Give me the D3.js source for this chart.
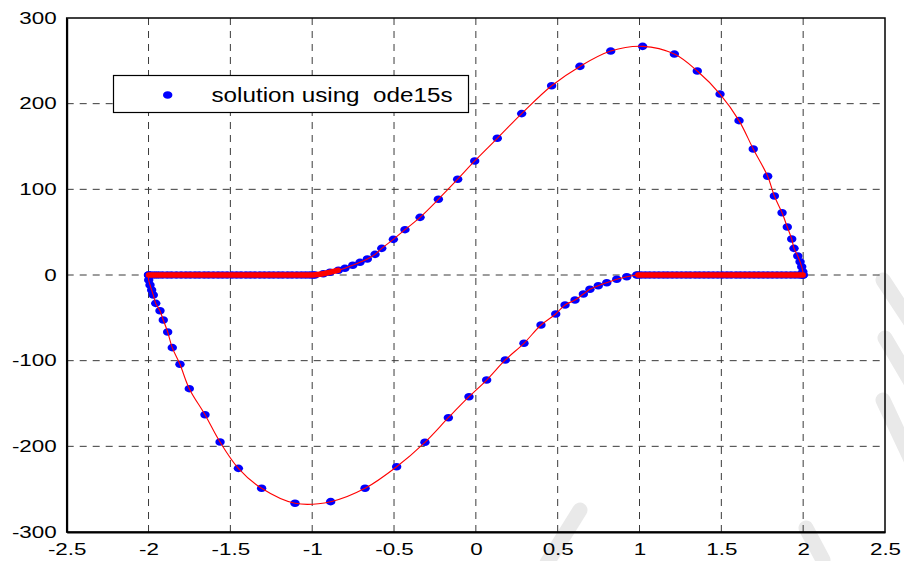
<!DOCTYPE html>
<html>
<head>
<meta charset="utf-8">
<script src="https://cdn.jsdelivr.net/npm/d3@7/dist/d3.min.js"></script>
<style>
  body { margin: 0; background: #fff; }
  text { font-family: "Liberation Sans", Arial, Helvetica, sans-serif; }
</style>
</head>
<body>
<div id="chart"></div>
<script>
// values
var upperX = [-0.983, -0.932, -0.891, -0.840, -0.800, -0.752, -0.708, -0.663, -0.616, -0.575, -0.504, -0.433, -0.341, -0.229, -0.111, -0.007, 0.131, 0.280, 0.463, 0.636, 0.824, 1.019, 1.213, 1.353, 1.492, 1.608, 1.695, 1.783, 1.824, 1.871, 1.903, 1.930, 1.944, 1.967, 1.981, 1.991, 1.998, 2.0];
var upperY = [0, 1.5, 3.2, 5.5, 7.8, 11.4, 14.8, 18.7, 24.1, 31.1, 41.6, 52.9, 67.3, 88.4, 111.8, 133.1, 159.6, 188.4, 220.9, 243.5, 261.4, 266.9, 257.9, 238.1, 211.2, 180.2, 147.1, 115.3, 92.2, 72.6, 56.0, 42.0, 31.1, 22.2, 15.5, 9.7, 3.9, 0];

var lowerX = [-2.0, -1.999, -1.991, -1.981, -1.971, -1.956, -1.930, -1.910, -1.883, -1.855, -1.808, -1.751, -1.655, -1.563, -1.451, -1.309, -1.105, -0.887, -0.677, -0.484, -0.311, -0.168, -0.042, 0.066, 0.180, 0.294, 0.398, 0.488, 0.545, 0.606, 0.657, 0.697, 0.748, 0.800, 0.861, 0.922, 0.983];
var lowerY = [0, -5.8, -11.7, -17.5, -23.3, -33.1, -41.7, -52.5, -66.5, -84.8, -104.2, -132.7, -163.1, -195.0, -225.7, -249.0, -266.5, -264.6, -249.0, -223.8, -195.3, -166.6, -142.1, -122.6, -99.2, -79.7, -58.4, -45.5, -35.0, -29.2, -22.2, -16.7, -12.5, -9.0, -5.0, -2.0, 0];

var flatLeftX = [-2.0, -1.985, -1.962, -1.94, -1.915, -1.886, -1.86, -1.83, -1.801, -1.772, -1.745, -1.716, -1.69, -1.66, -1.633, -1.604, -1.575, -1.548, -1.52, -1.49, -1.462, -1.435, -1.405, -1.378, -1.35, -1.32, -1.292, -1.263, -1.236, -1.207, -1.18, -1.15, -1.123, -1.094, -1.066, -1.04, -1.015, -0.995];
var flatRightX = [0.99, 1.01, 1.036, 1.062, 1.09, 1.118, 1.146, 1.172, 1.2, 1.228, 1.256, 1.284, 1.31, 1.34, 1.366, 1.394, 1.422, 1.45, 1.478, 1.506, 1.534, 1.56, 1.59, 1.616, 1.644, 1.672, 1.7, 1.728, 1.756, 1.784, 1.812, 1.84, 1.868, 1.896, 1.924, 1.95, 1.975, 1.992, 2.0];
var flatY = 0;

var xTicks = [-2.5, -2, -1.5, -1, -0.5, 0, 0.5, 1, 1.5, 2, 2.5];
var yTicks = [-300, -200, -100, 0, 100, 200, 300];
var legendLabel = "solution using  ode15s";

var width = 904, height = 561;
var margin = {top: 18, right: 19, bottom: 29, left: 66.7};

var x = d3.scaleLinear().domain([-2.5, 2.5]).range([margin.left, width - margin.right]);
var y = d3.scaleLinear().domain([-300, 300]).range([height - margin.bottom, margin.top]);

var svg = d3.select("#chart").append("svg")
    .attr("width", width)
    .attr("height", height);

// faint watermark strokes behind everything
var marks = [
  [[580, 510], [547, 563]],
  [[806, 528], [823, 560]],
  [[883, 280], [912, 324]],
  [[885, 338], [912, 384]],
  [[883, 400], [912, 462]]
];
svg.append("g").selectAll("path")
    .data(marks)
    .enter().append("path")
    .attr("d", d3.line())
    .style("fill", "none")
    .style("stroke", "#e9e9e9")
    .style("stroke-width", 15)
    .style("stroke-linecap", "round");

// grid
var grid = svg.append("g").attr("class", "grid")
    .style("stroke", "#3a3a3a")
    .style("stroke-width", 1)
    .style("stroke-dasharray", "7,6");

grid.selectAll("line.v")
    .data(xTicks.slice(1, -1))
    .enter().append("line")
    .attr("x1", d => x(d)).attr("x2", d => x(d))
    .attr("y1", y(-300)).attr("y2", y(300));

grid.selectAll("line.h")
    .data(yTicks.slice(1, -1))
    .enter().append("line")
    .attr("y1", d => y(d)).attr("y2", d => y(d))
    .attr("x1", x(-2.5)).attr("x2", x(2.5));

// blue markers
var pts = [];
upperX.forEach((v, i) => pts.push([v, upperY[i]]));
lowerX.forEach((v, i) => pts.push([v, lowerY[i]]));
flatLeftX.forEach(v => pts.push([v, flatY]));
flatRightX.forEach(v => pts.push([v, flatY]));

svg.append("g").selectAll("ellipse")
    .data(pts)
    .enter().append("ellipse")
    .attr("cx", d => x(d[0]))
    .attr("cy", d => y(d[1]))
    .attr("rx", 4.7)
    .attr("ry", 3.8)
    .style("fill", "#0000ff");

// red lines
var line = d3.line()
    .x(d => x(d[0]))
    .y(d => y(d[1]))
    .curve(d3.curveCatmullRom);

var upper = upperX.map((v, i) => [v, upperY[i]]);
var lower = lowerX.map((v, i) => [v, lowerY[i]]);

[upper, lower].forEach(function(s) {
  svg.append("path")
      .datum(s)
      .attr("d", line)
      .style("fill", "none")
      .style("stroke", "#ff0000")
      .style("stroke-width", 1.1);
});

var thick = [
  flatLeftX.map(v => [v, flatY]).concat(upper.slice(1, 4)),
  flatRightX.map(v => [v, flatY])
];
thick.forEach(function(s) {
  svg.append("path")
      .datum(s)
      .attr("d", line)
      .style("fill", "none")
      .style("stroke", "#ff0000")
      .style("stroke-width", 5.5)
      .style("stroke-linecap", "round");
});

// axes box
svg.append("rect")
    .attr("x", x(-2.5)).attr("y", y(300))
    .attr("width", x(2.5) - x(-2.5))
    .attr("height", y(-300) - y(300))
    .style("fill", "none")
    .style("stroke", "#000")
    .style("stroke-width", 1.5);

var stretch = 1.4;

var xAxis = svg.append("g")
    .attr("transform", "translate(0," + y(-300) + ")")
    .call(d3.axisBottom(x).tickValues(xTicks).tickSize(0).tickPadding(11.6).tickFormat(d => String(d)));

var yAxis = svg.append("g")
    .attr("transform", "translate(" + x(-2.5) + ",0)")
    .call(d3.axisLeft(y).tickValues(yTicks).tickSize(0).tickPadding(10).tickFormat(d => String(d)));

[xAxis, yAxis].forEach(function(a) {
  a.select(".domain").style("stroke", "#000").style("stroke-width", 2);
  a.selectAll("text")
      .style("font-size", "16px")
      .style("fill", "#000")
      .attr("transform", "scale(" + stretch + ",1)");
});
yAxis.selectAll("text").attr("x", -10 / stretch);

// legend
var lg = svg.append("g");
lg.append("rect")
    .attr("x", 113.5).attr("y", 75.5)
    .attr("width", 355).attr("height", 37)
    .style("fill", "#fff")
    .style("stroke", "#000")
    .style("stroke-width", 1.2);
lg.append("ellipse")
    .attr("cx", 167.7).attr("cy", 95)
    .attr("rx", 4.7).attr("ry", 3.8)
    .style("fill", "#0000ff");
lg.append("text")
    .attr("x", 211.5).attr("y", 101.5)
    .attr("textLength", 241)
    .attr("lengthAdjust", "spacingAndGlyphs")
    .style("font-size", "20px")
    .style("white-space", "pre")
    .attr("xml:space", "preserve")
    .text(legendLabel);
</script>
</body>
</html>
